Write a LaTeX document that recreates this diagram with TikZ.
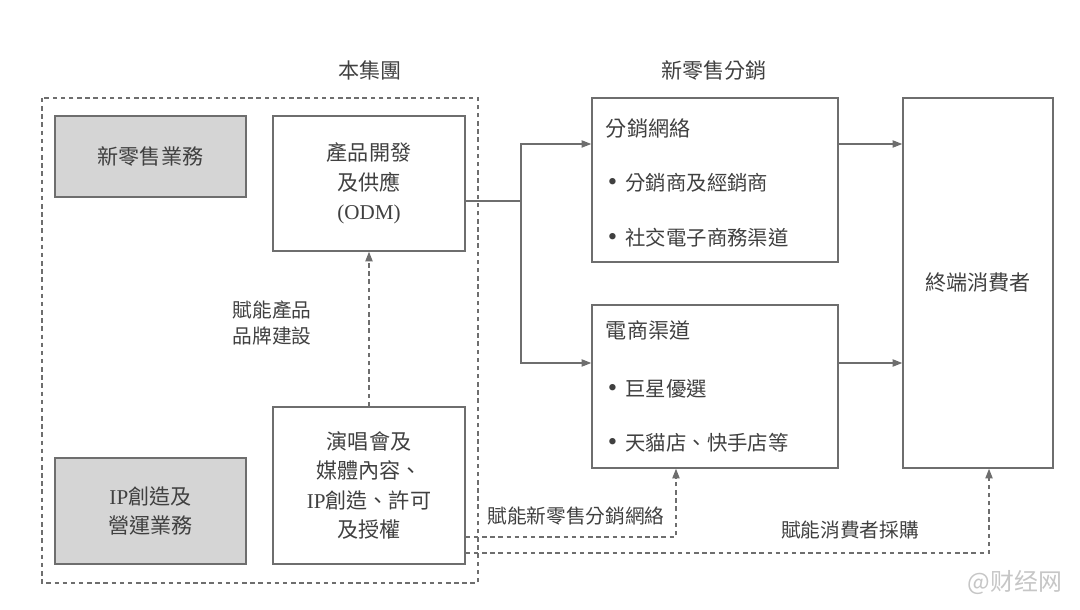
\documentclass[tikz,border=0pt]{standalone}
\usepackage{fontspec}
\setmainfont{Noto Sans CJK TC}
\newfontfamily\latinfont{Liberation Serif}
\usetikzlibrary{positioning, calc, arrows.meta}
\definecolor{Ink}{HTML}{404040}
\definecolor{Edge}{HTML}{6E6E6E}
\definecolor{Shade}{HTML}{D5D5D5}
\newcommand{\dotmark}{{\latinfont\fontsize{19}{19}\selectfont\textbullet}\hspace{0.4em}}
\tikzset{
    plainbox/.style={rectangle, draw=Edge, line width=1pt, fill=white, text=Ink, align=center, font=\fontsize{15}{21}\selectfont},
    greybox/.style={plainbox, fill=Shade},
    tag/.style={text=Ink, font=\fontsize{14}{19}\selectfont, align=center},
    itemtext/.style={text=Ink, anchor=west, font=\fontsize{14.5}{18}\selectfont},
    arr/.style={-{Triangle[length=2.4mm, width=1.8mm]}, line width=0.9pt, draw=Edge},
    darr/.style={arr, dash pattern=on 3.2pt off 2.6pt},
}

\begin{document}
\begin{tikzpicture}[x=0.025cm, y=-0.025cm]
    \useasboundingbox (0,0) rectangle (1080,610);

    % --- Gruppo (riquadro tratteggiato) ---
    \draw[Edge, line width=0.9pt, dash pattern=on 3.2pt off 2.6pt] (42,98) rectangle (478,583);
    \node[tag, font=\fontsize{15}{19}\selectfont] (grouptitle) at (370,70) {本集團};

    \node[greybox, minimum width=4.775cm, minimum height=2.025cm] (retail) at (150.5,156.5) {新零售業務};
    \node[plainbox, minimum width=4.8cm, minimum height=3.375cm] (odm) at (369,183.5) {產品開發\\及供應\\{\latinfont (ODM)}};
    \node[greybox, minimum width=4.775cm, minimum height=2.65cm] (ipbiz) at (150.5,511) {{\latinfont IP}創造及\\營運業務};
    \node[plainbox, minimum width=4.8cm, minimum height=3.925cm] (show) at (369,485.5) {演唱會及\\媒體內容、\\{\latinfont IP}創造、許可\\及授權};

    % freccia tratteggiata verso ODM
    \draw[darr] (show.north) -- (odm.south);
    \node[tag] (brandtag) at (272,323) {賦能產品\\品牌建設};

    % --- Distribuzione ---
    \node[tag, font=\fontsize{15}{19}\selectfont] (disttitle) at (714,70) {新零售分銷};

    \node[plainbox, minimum width=6.15cm, minimum height=4.1cm] (dist) at (715,180) {};
    \node[itemtext, font=\fontsize{15}{19}\selectfont] (disthead) at (601,128) {分銷網絡};
    \node[itemtext] (distA) at (603,183) {\dotmark 分銷商及經銷商};
    \node[itemtext] (distB) at (603,238) {\dotmark 社交電子商務渠道};

    \node[plainbox, minimum width=6.15cm, minimum height=4.075cm] (ecom) at (715,386.5) {};
    \node[itemtext, font=\fontsize{15}{19}\selectfont] (ecomhead) at (601,330) {電商渠道};
    \node[itemtext] (ecomA) at (603,389) {\dotmark 巨星優選};
    \node[itemtext] (ecomB) at (603,443) {\dotmark 天貓店、快手店等};

    \node[plainbox, minimum width=3.75cm, minimum height=9.25cm] (cons) at (978,283) {};
    \node[text=Ink, font=\fontsize{15}{19}\selectfont] (constext) at (cons.center) {終端消費者};

    % connettori pieni
    \coordinate (split) at (521,201);
    \draw[Edge, line width=0.9pt] (odm.east |- split) -- (split);
    \path ([yshift=0.9cm]dist.west) coordinate (distin)
          ([yshift=0.5875cm]ecom.west) coordinate (ecomin)
          ([yshift=0.9cm]dist.east) coordinate (distout)
          ([yshift=0.5875cm]ecom.east) coordinate (ecomout);
    \draw[arr] (split) |- (distin);
    \draw[arr] (split) |- (ecomin);
    \draw[arr] (distout) -- (distout -| cons.west);
    \draw[arr] (ecomout) -- (ecomout -| cons.west);

    % connettori tratteggiati in basso
    \draw[darr] ([yshift=-1.29cm]show.east) -| ([xshift=-0.975cm]ecom.south);
    \draw[darr] ([yshift=-1.69cm]show.east) -| ([xshift=0.275cm]cons.south);
    \node[tag] (retailtag) at (576,516) {賦能新零售分銷網絡};
    \node[tag] (buytag) at (850,530) {賦能消費者採購};

    % filigrana
    \node[text=gray!45, font=\fontsize{17}{20}\selectfont] (mark) at (1015,583) {@财经网};
\end{tikzpicture}
\end{document}
